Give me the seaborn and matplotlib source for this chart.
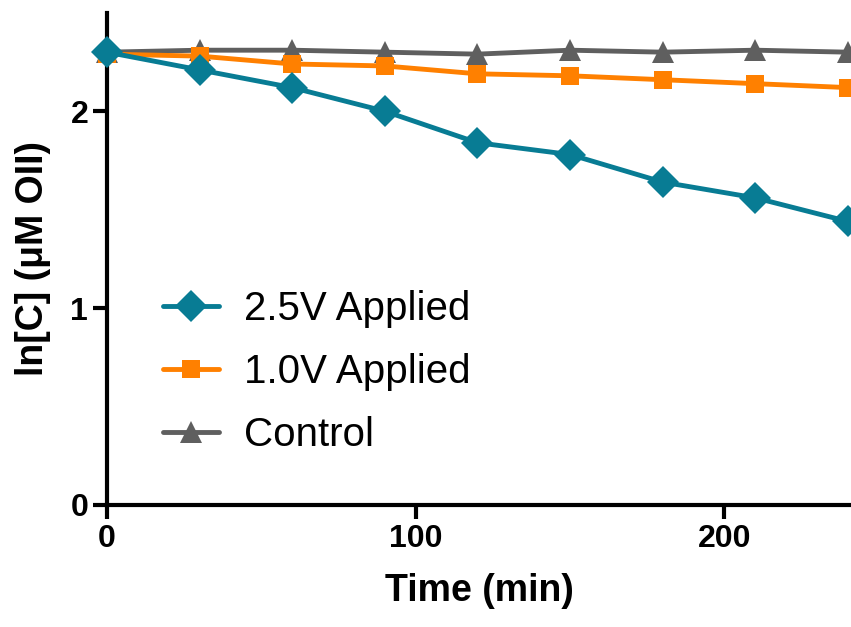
import matplotlib
matplotlib.use("Agg")
import matplotlib.pyplot as plt
import seaborn as sns
import pandas as pd

time_min = [0, 30, 60, 90, 120, 150, 180, 210, 240]
v25 = [2.30, 2.21, 2.12, 2.00, 1.84, 1.78, 1.64, 1.56, 1.44]
v10 = [2.29, 2.28, 2.24, 2.23, 2.19, 2.18, 2.16, 2.14, 2.12]
control = [2.30, 2.31, 2.31, 2.30, 2.29, 2.31, 2.30, 2.31, 2.30]
series_names = ["2.5V Applied", "1.0V Applied", "Control"]
xticks = [0, 100, 200]
yticks = [0, 1, 2]

rows = []
for name, vals in zip(series_names, [v25, v10, control]):
    for t, v in zip(time_min, vals):
        rows.append({"Time": t, "lnC": v, "Series": name})
df = pd.DataFrame(rows)

sns.set_style("ticks")
plt.rcParams['font.family'] = ['Liberation Sans', 'DejaVu Sans']
plt.rcParams['text.color'] = 'black'
plt.rcParams['axes.labelcolor'] = 'black'
plt.rcParams['xtick.color'] = 'black'
plt.rcParams['ytick.color'] = 'black'

fig = plt.figure(figsize=(8.51, 6.27), dpi=100)
ax = fig.add_axes([0.1257, 0.1946, 0.8743, 0.785])

palette = {"2.5V Applied": "#087C94", "1.0V Applied": "#FF8000", "Control": "#5F5F5F"}
markers = {"2.5V Applied": "D", "1.0V Applied": "s", "Control": "^"}
sizes_m = {"2.5V Applied": 16, "1.0V Applied": 13, "Control": 16}

for name in ["Control", "1.0V Applied", "2.5V Applied"]:
    sub = df[df["Series"] == name]
    sns.lineplot(data=sub, x="Time", y="lnC", ax=ax, color=palette[name],
                 marker=markers[name], markersize=sizes_m[name], linewidth=3.5,
                 markeredgewidth=0, label=name, clip_on=False, zorder=3)

ax.set_xlim(0, 241)
ax.set_ylim(0, 2.5)
ax.set_xticks(xticks)
ax.set_yticks(yticks)
for s in ["top", "right"]:
    ax.spines[s].set_visible(False)
for s in ["left", "bottom"]:
    ax.spines[s].set_linewidth(3)
    ax.spines[s].set_color("black")
ax.tick_params(axis="both", width=3, length=10, labelsize=23, color="black",
               labelcolor="black")
for lab in ax.get_xticklabels() + ax.get_yticklabels():
    lab.set_fontweight("bold")

ax.set_xlabel("Time (min)", fontsize=27, fontweight="bold", labelpad=14)
ax.set_ylabel("ln[C] (μM OII)", fontsize=27, fontweight="bold", labelpad=14)

handles, labels = ax.get_legend_handles_labels()
order = [labels.index(n) for n in series_names]
leg = ax.legend([handles[i] for i in order], [labels[i] for i in order],
                loc="center left", bbox_to_anchor=(0.026, 0.27), frameon=False,
                fontsize=29, handlelength=1.4, labelspacing=0.62, handletextpad=0.62)
for t in leg.get_texts():
    t.set_color("black")

fig.savefig("out.png", dpi=100)
